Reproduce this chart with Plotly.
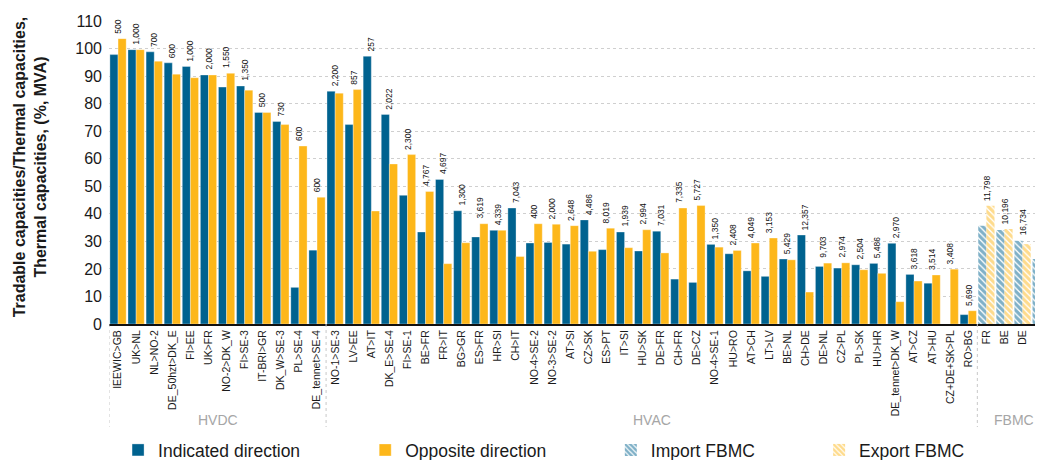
import plotly.graph_objects as go

categories = ["IEEWIC>GB", "UK>NL", "NL>NO-2", "DE_50hzt>DK_E", "FI>EE", "UK>FR", "NO-2>DK_W", "FI>SE-3",
              "IT-BRI>GR", "DK_W>SE-3", "PL>SE-4", "DE_tennet>SE-4",
              "NO-1>SE-3", "LV>EE", "AT>IT", "DK_E>SE-4", "FI>SE-1", "BE>FR", "FR>IT", "BG>GR", "ES>FR", "HR>SI",
              "CH>IT", "NO-4>SE-2", "NO-3>SE-2", "AT>SI", "CZ>SK", "ES>PT", "IT>SI", "HU>SK", "DE>FR", "CH>FR",
              "DE>CZ", "NO-4>SE-1", "HU>RO", "AT>CH", "LT>LV", "BE>NL", "CH>DE", "DE>NL", "CZ>PL", "PL>SK",
              "HU>HR", "DE_tennet>DK_W", "AT>CZ", "AT>HU", "CZ+DE+SK>PL", "RO>BG",
              "FR", "BE", "DE", "NL"]

indicated = [97.8, 99.6, 98.8, 94.8, 93.5, 90.4, 86.0, 86.4, 76.8, 73.5, 13.3, 26.8,
             84.5, 72.4, 97.2, 76.1, 46.7, 33.4, 52.5, 41.1, 31.6, 34.0, 42.1, 29.4, 29.6, 29.0,
             37.8, 27.0, 33.4, 26.5, 33.7, 16.3, 15.1, 28.9, 25.5, 19.3, 17.3, 23.6, 32.3, 20.9,
             20.3, 21.5, 22.0, 29.3, 18.0, 14.8, 0.0, 3.4,
             35.7, 34.1, 30.2, 23.6]

opposite = [103.6, 99.6, 95.4, 90.7, 89.4, 90.4, 91.0, 84.9, 76.8, 72.4, 64.6, 46.0,
            83.8, 85.1, 41.0, 58.1, 61.5, 48.1, 21.9, 29.5, 36.4, 34.0, 24.5, 36.4, 36.2, 35.7,
            26.4, 34.8, 27.7, 34.2, 25.8, 42.1, 43.0, 27.9, 26.7, 29.4, 31.2, 23.3, 11.6, 22.1,
            22.2, 19.7, 18.4, 8.1, 15.6, 17.8, 19.9, 4.8,
            42.9, 34.5, 29.0, 24.9]

capacity_labels = ["500", "1,000", "700", "600", "1,000", "2,000", "1,550", "1,350", "500", "730", "600", "600",
                   "2,200", "857", "257", "2,022", "2,300", "4,767", "4,697", "1,300", "3,619", "4,339",
                   "7,043", "400", "2,000", "2,648", "4,486", "8,019", "1,939", "2,994", "7,031", "7,335",
                   "5,727", "1,350", "2,408", "4,049", "3,153", "5,429", "12,357", "9,703", "2,974", "2,504",
                   "5,486", "2,970", "3,618", "3,514", "3,408", "5,690",
                   "11,798", "10,196", "16,734", "15,132"]

groups = ["HVDC", "HVAC", "FBMC"]
group_sizes = [12, 36, 4]

BLUE = "#00628F"
YELLOW = "#FDB71A"
SANS = "Liberation Sans, Arial, sans-serif"

n_fb = group_sizes[2]
n_std = len(categories) - n_fb
edge = dict(color="rgba(255,255,255,0.55)", width=0.6)

fig = go.Figure()
fig.add_trace(go.Bar(x=categories[:n_std], y=indicated[:n_std], name="Indicated direction",
                     marker=dict(color=BLUE, line=edge), offsetgroup="a", legend="legend"))
fig.add_trace(go.Bar(x=categories[:n_std], y=opposite[:n_std], name="Opposite direction",
                     marker=dict(color=YELLOW, line=edge), offsetgroup="b", legend="legend2"))
fig.add_trace(go.Bar(x=categories[n_std:], y=indicated[n_std:], name="Import FBMC",
                     marker=dict(color="white", line=dict(color="rgba(255,255,255,0)", width=0),
                                 pattern=dict(shape="\\", fgcolor=BLUE, bgcolor="white", size=4.5, solidity=0.7)),
                     offsetgroup="a", legend="legend3"))
fig.add_trace(go.Bar(x=categories[n_std:], y=opposite[n_std:], name="Export FBMC",
                     marker=dict(color="white", line=dict(color="rgba(255,255,255,0)", width=0),
                                 pattern=dict(shape="\\", fgcolor=YELLOW, bgcolor="white", size=4.5, solidity=0.7)),
                     offsetgroup="b", legend="legend4"))

annotations = []
for i, c in enumerate(categories):
    top = max(indicated[i], opposite[i])
    annotations.append(dict(x=c, y=top, xref="x", yref="y", text=capacity_labels[i], textangle=-90,
                            showarrow=False, xanchor="center", yanchor="bottom", yshift=3,
                            font=dict(family=SANS, size=8.5, color="#111111")))

# group labels and separators
shapes = []
start = 0
sep_bottom = -0.34
for g, s in zip(groups, group_sizes):
    center = start + (s - 1) / 2
    annotations.append(dict(x=center, y=-0.317, xref="x", yref="paper", text=g, showarrow=False,
                            xanchor="center", yanchor="middle",
                            font=dict(family=SANS, size=14, color="#A6A6A6")))
    shapes.append(dict(type="line", xref="x", yref="paper", x0=start - 0.5, x1=start - 0.5,
                       y0=0, y1=sep_bottom, line=dict(color="#C8C8C8", width=1, dash="dot")))
    start += s

annotations.append(dict(x=-0.0836, y=0.52, xref="paper", yref="paper",
                        text="Tradable capacities/Thermal capacities,<br>Thermal capacities, (%, MVA)",
                        textangle=-90, showarrow=False, xanchor="center", yanchor="middle",
                        font=dict(family=SANS, size=16, color="#1a1a1a", weight="bold")))

leg_common = dict(orientation="h", yanchor="middle", y=-0.416, xanchor="left",
                  font=dict(family=SANS, size=17.5, color="#1a1a1a"), bgcolor="rgba(0,0,0,0)")

# The page body has an 8px margin, so the figure is sized/placed to land on the 1043x460 window.
fig.update_layout(
    width=1035, height=452,
    margin=dict(l=101, r=0, t=13, b=136, autoexpand=False),
    paper_bgcolor="white", plot_bgcolor="white",
    barmode="group", bargap=0.1, bargroupgap=0.0,
    showlegend=True,
    legend=dict(x=0.0097, **leg_common),
    legend2=dict(x=0.2743, **leg_common),
    legend3=dict(x=0.5373, **leg_common),
    legend4=dict(x=0.7603, **leg_common),
    annotations=annotations,
    shapes=shapes,
    xaxis=dict(type="category", categoryorder="array", categoryarray=categories,
               range=[-0.5, 51.13], tickangle=-90, showgrid=False, automargin=False,
               showline=True, linecolor="#111111", linewidth=2, ticks="",
               tickfont=dict(family=SANS, size=10.5, color="#1a1a1a")),
    yaxis=dict(range=[0, 110], dtick=10, showgrid=True, gridcolor="#CFCFCF", griddash="dot", gridwidth=1,
               zeroline=False, showline=False, ticks="", automargin=False, ticklabelstandoff=6,
               tickfont=dict(family=SANS, size=16, color="#1a1a1a")),
)

fig.write_html("out.html")
